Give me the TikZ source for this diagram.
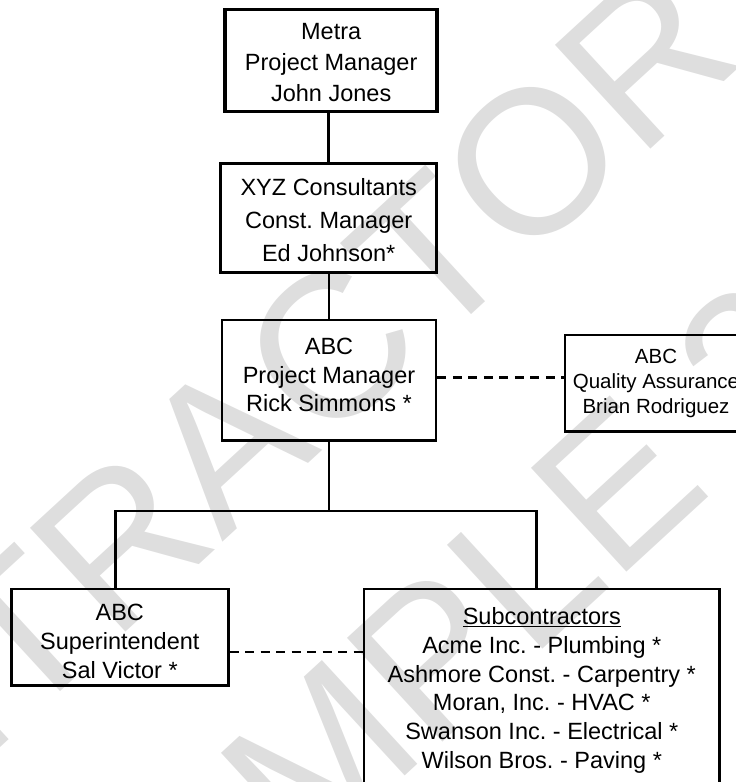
\documentclass[tikz,border=0pt]{standalone}
\usepackage{fontspec}
\setmainfont{Liberation Sans}
\frenchspacing

\begin{document}
\begin{tikzpicture}[x = 1pt, y = -1pt,
    orgbox/.style = {draw, line width = 2.8pt, inner sep = 0pt, align = center, anchor = north,
        font = \fontsize{23.5}{#1}\selectfont},
    link/.style = {line width = 2.8pt},
    dashlink/.style = {line width = 2.4pt, dash pattern = on 9pt off 6.5pt},
    wmark/.style = {text = black!13, inner sep = 0pt, rotate = 42.6, font = \fontsize{205}{236}\selectfont}]
    \useasboundingbox (0,0) rectangle (736,782);
    \clip (0,0) rectangle (736,782);
    \node[wmark, anchor = base] (wmtop) at (217,548) {CONTRACTOR};
    \node[wmark, anchor = base west] (wmbot) at (103,1054) {SAMPLE 2};

    \node[orgbox = 31, line width = 3.8pt, minimum width = 212pt, text height = 92.2pt, text depth = 9.8pt]
        (metra) at (331.2,7.5) {Metra\\Project Manager\\John Jones};
    \node[orgbox = 32.8, minimum width = 216pt, text height = 98pt, text depth = 10.7pt]
        (xyz) at (328.7,162) {XYZ Consultants\\Const. Manager\\Ed Johnson*};
    \node[orgbox = 28.4, minimum width = 214pt, text height = 91.5pt, text depth = 29.3pt]
        (abcpm) at (329,318.5) {ABC\\Project Manager\\Rick Simmons *};
    \node[orgbox = 24.8, line width = 2.5pt, font = \fontsize{20.5}{24.8}\selectfont,
        minimum width = 182pt, text height = 78.8pt, text depth = 17.7pt]
        (qa) at (656,333.5) {ABC\\Quality Assurance\\Brian Rodriguez};
    \node[orgbox = 29, minimum width = 217pt, text height = 89.2pt, text depth = 7.3pt]
        (super) at (119.8,587.5) {ABC\\Superintendent\\Sal Victor *};
    \node[orgbox = 28.7, minimum width = 355.5pt, text height = 179.2pt, text depth = 40pt]
        (subs) at (541.8,587.5) {\underline{Subcontractors}\\Acme Inc. - Plumbing *\\Ashmore Const. - Carpentry *\\
        Moran, Inc. - HVAC *\\Swanson Inc. - Electrical *\\Wilson Bros. - Paving *};

    \coordinate (dropL) at (115.3,511);
    \coordinate (dropR) at (536.5,511);
    \draw[link]
        (xyz.north) -- (xyz.north |- metra.south)
        (abcpm.north) -- (abcpm.north |- xyz.south)
        (abcpm.south) -- (abcpm.south |- dropL)
        (dropL |- super.north) -- (dropL) -- (dropR) -- (dropR |- subs.north);
    \draw[dashlink] ([yshift = 3pt]abcpm.east) -- ([yshift = 3pt]abcpm.east -| qa.west);
    \draw[dashlink] ([yshift = -15pt]super.east) -- ([yshift = -15pt]super.east -| subs.west);
\end{tikzpicture}
\end{document}
